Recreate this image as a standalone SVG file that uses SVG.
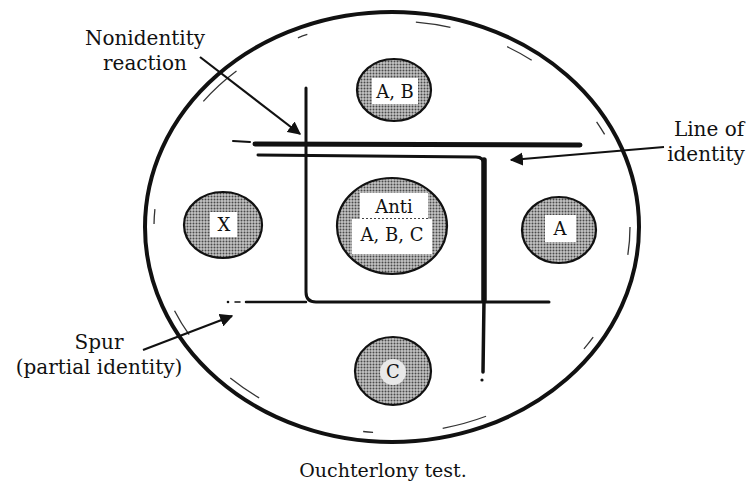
<svg xmlns="http://www.w3.org/2000/svg" width="754" height="484" viewBox="0 0 754 484">
<style>
.lbl{font-family:"DejaVu Serif","Liberation Serif",serif;font-size:20px;fill:#111;}
.wl{font-family:"DejaVu Serif","Liberation Serif",serif;font-size:18px;fill:#111;text-anchor:middle;}
.well{fill:url(#stip);stroke:#111;stroke-width:2.2;}
.ln{fill:none;stroke:#111;stroke-linecap:round;}
.arr{fill:none;stroke:#111;stroke-width:2.2;marker-end:url(#ah);}
.box{fill:#fff;}
</style>
<defs>
<pattern id="stip" width="3" height="3" patternUnits="userSpaceOnUse">
<rect width="3" height="3" fill="#c4c4c4"/>
<circle cx="1.5" cy="1.5" r="1" fill="#4a4a4a"/>
</pattern>
<marker id="ah" viewBox="0 0 10 10" refX="9" refY="5" markerWidth="6" markerHeight="6" orient="auto" markerUnits="strokeWidth">
<path d="M0,0 L10,5 L0,10 z" fill="#111"/>
</marker>
</defs>
<rect width="754" height="484" fill="#fff"/>
<g id="plate">
<ellipse cx="392" cy="227" rx="247" ry="215" fill="none" stroke="#111" stroke-width="4"/>
<ellipse cx="392" cy="227" rx="238" ry="206" fill="none" stroke="#333" stroke-width="1.3" stroke-dasharray="28 90 15 120 45 70 10 110 35 60"/>
</g>
<g id="well-ab">
<ellipse class="well" cx="394" cy="90" rx="37" ry="31"/>
<rect class="box" x="372" y="78" width="46" height="26"/>
<text class="wl" x="395" y="98">A, B</text>
</g>
<g id="well-x">
<ellipse class="well" cx="223" cy="225" rx="39" ry="33"/>
<rect class="box" x="210" y="212" width="27" height="25"/>
<text class="wl" x="224" y="231">X</text>
</g>
<g id="well-a">
<ellipse class="well" cx="559" cy="230" rx="37" ry="33"/>
<rect class="box" x="545" y="215" width="31" height="27"/>
<text class="wl" x="560" y="235">A</text>
</g>
<g id="well-c">
<ellipse class="well" cx="393" cy="371" rx="38" ry="34"/>
<ellipse cx="393" cy="372" rx="13" ry="13" fill="#e8e8e8"/>
<text class="wl" x="393" y="378">C</text>
</g>
<g id="well-anti">
<ellipse class="well" cx="392" cy="226" rx="55" ry="48"/>
<rect class="box" x="360" y="193" width="68" height="26"/>
<rect class="box" x="352" y="219" width="80" height="35"/>
<line x1="362" y1="218.5" x2="428" y2="218.5" stroke="#444" stroke-width="1" stroke-dasharray="2 2"/>
<text class="wl" x="394" y="213">Anti</text>
<text class="wl" x="392" y="241">A, B, C</text>
</g>
<g id="connectors">
<path class="ln" d="M255 144 L580 145" stroke-width="5"/>
<path class="ln" d="M233 141 L250 142" stroke-width="2"/>
<path class="ln" d="M258 155 L476 157 Q484 157 484 165 L484 300" stroke-width="3"/>
<path class="ln" d="M484 160 L484 300" stroke-width="5.5"/>
<path class="ln" d="M484 300 L483 372" stroke-width="3.5"/>
<circle cx="482" cy="380" r="1.6" fill="#111"/>
<path class="ln" d="M306 88 L306 292 Q306 302 316 302 L549 302" stroke-width="3"/>
<path class="ln" d="M246 302 L306 302" stroke-width="2.5"/>
<circle cx="228" cy="302" r="1.3" fill="#111"/>
<path class="ln" d="M235 302 L240 302" stroke-width="1.5"/>
<path class="arr" d="M200 57 L300 134"/>
<path class="arr" d="M664 147 L511 160"/>
<path class="arr" d="M143 350 L232 316"/>
</g>
<g id="labels">
<text class="lbl" x="145" y="45" text-anchor="middle">Nonidentity</text>
<text class="lbl" x="145" y="70" text-anchor="middle">reaction</text>
<text class="lbl" x="709" y="136" text-anchor="middle">Line of</text>
<text class="lbl" x="706" y="161" text-anchor="middle">identity</text>
<text class="lbl" x="99" y="349" text-anchor="middle">Spur</text>
<text class="lbl" x="99" y="374" text-anchor="middle">(partial identity)</text>
<text class="lbl" x="383" y="477" text-anchor="middle" style="font-size:19px">Ouchterlony test.</text>
</g>
</svg>
